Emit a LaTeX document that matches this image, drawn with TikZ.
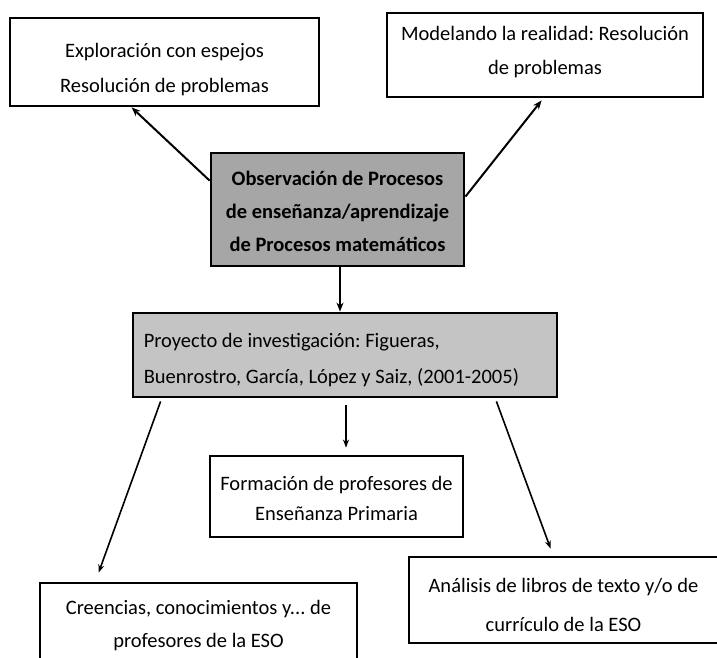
\documentclass[tikz,border=0pt]{standalone}
\usepackage{fontspec}
\setmainfont{Carlito}
\frenchspacing
\usetikzlibrary{calc,arrows.meta}
\definecolor{obsgray}{HTML}{A6A6A6}
\definecolor{proygray}{HTML}{C4C4C4}
\begin{document}
\begin{tikzpicture}[x=1pt,y=-1pt,
  box/.style={draw=black,line width=2.8pt,fill=white,inner sep=0pt},
  txt/.style={inner sep=0pt,align=center,font=\fontsize{20.5}{34}\selectfont},
  arr/.style={line width=2pt,-{Stealth[length=9pt,width=7pt]}},
  arrthin/.style={line width=1.6pt,-{Stealth[length=8pt,width=6pt]}}]
\useasboundingbox (0,0) rectangle (717,658);
\fill[white] (0,0) rectangle (717,658);
% boxes
\node[box,minimum width=309pt,minimum height=88pt] (b1) at (164.5,62) {};
\node[box,minimum width=316pt,minimum height=84pt] (b2) at (545,55) {};
\node[box,fill=obsgray,minimum width=253pt,minimum height=113pt] (obs) at (337.5,209.5) {};
\node[box,fill=proygray,minimum width=424pt,minimum height=84pt] (proy) at (345,355) {};
\node[box,minimum width=253pt,minimum height=81pt] (form) at (336.5,496.5) {};
\node[box,minimum width=317pt,minimum height=88pt] (b6) at (198.5,627) {};
\node[box,minimum width=309pt,minimum height=86pt] (b7) at (563.5,600) {};
% texts
\node[txt,font=\fontsize{20.5}{35}\selectfont] (b1t) at ($(b1.center)+(0,7.5)$)
  {Exploración con espejos\\Resolución de problemas};
\node[txt] (b2t) at ($(b2.center)+(0,-3)$)
  {Modelando la realidad: Resolución\\de problemas};
\node[txt,font=\fontsize{20.5}{33}\selectfont\bfseries] (obst) at ($(obs.center)+(0,2)$)
  {Observación de Procesos\\de enseñanza/aprendizaje\\de Procesos matemáticos};
\node[txt,align=left,anchor=west,font=\fontsize{20.5}{36}\selectfont] (proyt) at ($(proy.west)+(12,5)$)
  {Proyecto de investigación: Figueras,\\Buenrostro, García, López y Saiz, (2001-2005)};
\node[txt,font=\fontsize{20.5}{30}\selectfont] (formt) at ($(form.center)+(0,2)$)
  {Formación de profesores de\\Enseñanza Primaria};
\node[txt,font=\fontsize{20.5}{33}\selectfont] (b6t) at ($(b6.center)+(0,-1.5)$)
  {Creencias, conocimientos y... de\\profesores de la ESO};
\node[txt,font=\fontsize{20.5}{39}\selectfont] (b7t) at ($(b7.center)+(0,4.5)$)
  {Análisis de libros de texto y/o de\\currículo de la ESO};
% connectors
\coordinate (o1) at ($(obs.north west)+(0,29)$);
\coordinate (t1) at ($(b1.south west)+(123,0)$);
\coordinate (o2) at ($(obs.north east)+(0,45)$);
\coordinate (t2) at ($(b2.south west)+(156,2)$);
\coordinate (o3) at ($(obs.south)+(2.5,0)$);
\coordinate (t3) at ($(proy.north)+(-5,0)$);
\coordinate (p4) at ($(proy.south)+(1,7)$);
\coordinate (t4) at ($(form.north)+(9.5,-7)$);
\coordinate (p6) at ($(proy.south west)+(29,3)$);
\coordinate (t6) at ($(b6.north west)+(60,-9)$);
\coordinate (p7) at ($(proy.south east)+(-62,3)$);
\coordinate (t7) at ($(b7.north west)+(143,-7)$);
\draw[arr] (o1) -- (t1);
\draw[arr] (o2) -- (t2);
\draw[arr] (o3) -- (t3);
\draw[arrthin] (p4) -- (t4);
\draw[arrthin] (p6) -- (t6);
\draw[arrthin] (p7) -- (t7);
\end{tikzpicture}
\end{document}
